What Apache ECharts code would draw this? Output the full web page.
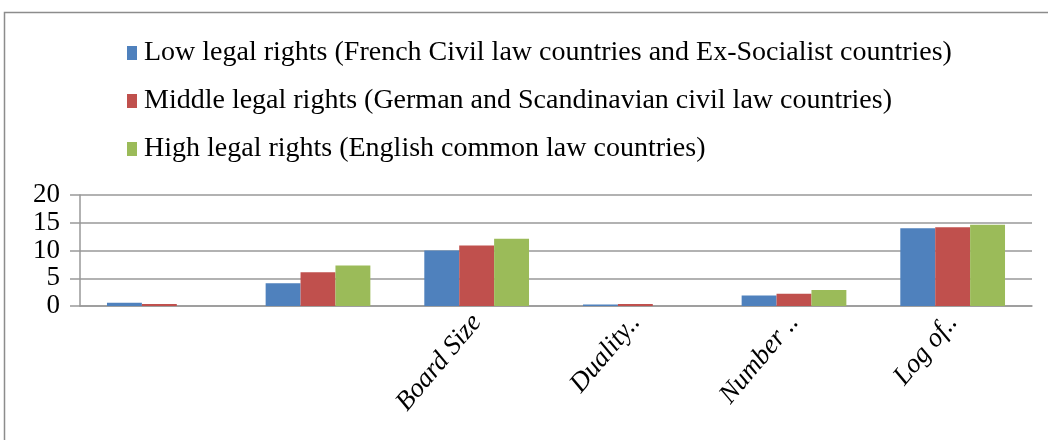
<!DOCTYPE html>
<html>
<head>
<meta charset="utf-8">
<title>legal rights</title>
<script src="https://cdn.jsdelivr.net/npm/echarts@6/dist/echarts.min.js"></script>
<style>
  html, body { margin: 0; padding: 0; background: #fff; }
  #main { width: 1048px; height: 440px; }
</style>
</head>
<body>
<div id="main"></div>
<script>
// categories (first two have no label in the picture)
var categories = ['', ' ', 'Board Size', 'Duality..', 'Number ..', 'Log of..']
var seriesNames = [
    'Low legal rights (French Civil law countries and Ex-Socialist countries)',
    'Middle legal rights (German and Scandinavian civil law countries)',
    'High legal rights (English common law countries)'
]
var lowValues = [0.6, 4.1, 10.0, 0.25, 1.9, 14.0]
var middleValues = [0.35, 6.1, 10.9, 0.35, 2.2, 14.2]
var highValues = [0, 7.3, 12.1, 0, 2.9, 14.65]
var yTicks = [0, 5, 10, 15, 20]

var colors = ['#4F81BD', '#C0504D', '#9BBB59']
var serif = '"Liberation Serif", "DejaVu Serif", serif'

var chart = echarts.init(document.getElementById('main'))

var option = {
    animation: false,
    color: colors,
    graphic: [{
        type: 'rect',
        shape: { x: 4.5, y: 12.5, width: 1060, height: 440 },
        style: { fill: 'none', stroke: '#8c8c8c', lineWidth: 1.5 }
    }],
    legend: {
        orient: 'vertical',
        left: 122,
        top: 34,
        itemWidth: 10,
        itemHeight: 14,
        itemGap: 20,
        icon: 'rect',
        textStyle: { fontFamily: serif, fontSize: 28, color: '#000', padding: [0, 0, 0, 2] },
        data: seriesNames
    },
    grid: { left: 80, right: 16, top: 195, bottom: 134 },
    xAxis: {
        type: 'category',
        data: categories,
        axisLine: { lineStyle: { color: '#999', width: 1.5 } },
        axisTick: { length: 10, lineStyle: { color: '#999', width: 1.5 } },
        axisLabel: {
            interval: 0,
            rotate: 50,
            margin: 12,
            fontFamily: serif,
            fontStyle: 'italic',
            fontSize: 27,
            color: '#000'
        }
    },
    yAxis: {
        type: 'value',
        min: yTicks[0],
        max: yTicks[yTicks.length - 1],
        interval: 5,
        axisLine: { show: true, lineStyle: { color: '#999', width: 1.5 } },
        axisTick: { show: true, length: 10, lineStyle: { color: '#999', width: 1.5 } },
        splitLine: { lineStyle: { color: '#999', width: 1.5 } },
        axisLabel: {
            fontFamily: serif, fontSize: 27, color: '#000', margin: 20,
            showMinLabel: true, showMaxLabel: true, hideOverlap: false
        }
    },
    series: [
        { name: seriesNames[0], type: 'bar', data: lowValues, barGap: '0%', barCategoryGap: '34%' },
        { name: seriesNames[1], type: 'bar', data: middleValues, barGap: '0%', barCategoryGap: '34%' },
        { name: seriesNames[2], type: 'bar', data: highValues, barGap: '0%', barCategoryGap: '34%' }
    ]
}

chart.setOption(option)
</script>
</body>
</html>
